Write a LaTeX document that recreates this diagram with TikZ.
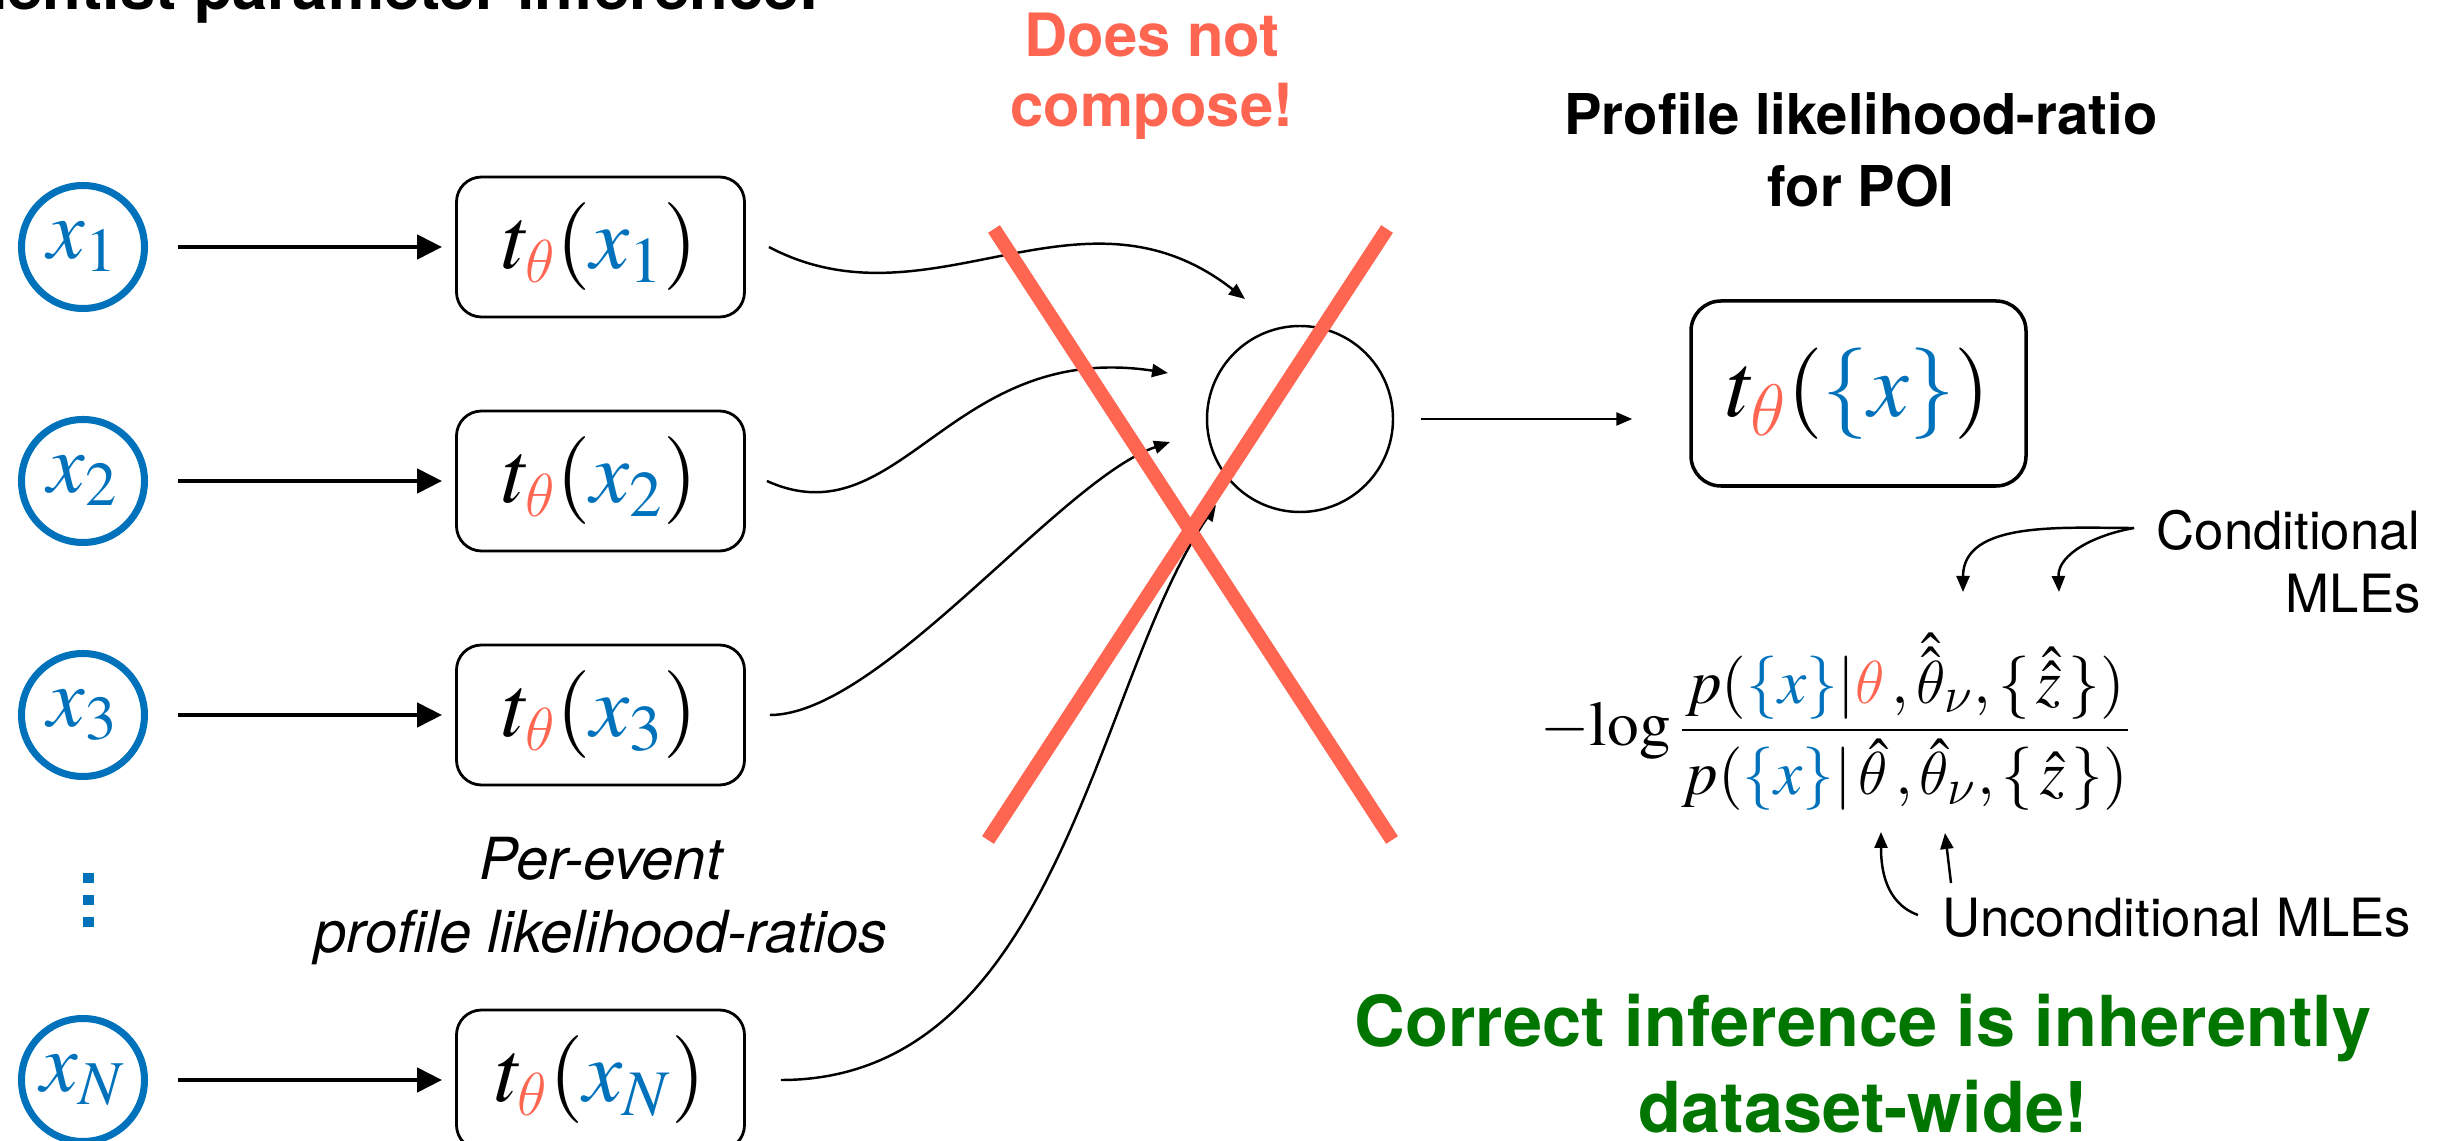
\documentclass[tikz,border=0pt]{standalone}
\usepackage{amsmath}
\usepackage{mathptmx}
\DeclareSymbolFont{cmitgreek}{OML}{cmm}{m}{it}
\DeclareMathSymbol{\theta}{\mathord}{cmitgreek}{"12}
\DeclareMathSymbol{\nu}{\mathord}{cmitgreek}{"17}
\usepackage[no-math]{fontspec}
\setmainfont{TeX Gyre Heros}
\usetikzlibrary{arrows.meta,calc}

\definecolor{evblue}{RGB}{0,114,188}
\definecolor{poired}{RGB}{255,102,82}
\definecolor{okgreen}{RGB}{0,117,0}

\begin{document}
\begin{tikzpicture}[
	evnode/.style={circle, draw=evblue, text=evblue, line width=2pt, minimum size=1.23cm, inner sep=0pt, font=\fontsize{24}{28}\selectfont},
	ratiobox/.style={draw, rounded corners=0.25cm, line width=0.8pt, minimum width=2.88cm, minimum height=1.40cm, inner sep=0pt, font=\fontsize{25}{30}\selectfont},
	feed/.style={line width=1.3pt, -{Triangle[length=0.25cm,width=0.24cm]}, shorten <=0.30cm, shorten >=0.13cm},
	link/.style={line width=0.7pt, -{Triangle[length=0.16cm,width=0.13cm]}},
	note/.style={font=\fontsize{15}{18}\selectfont}
]
\useasboundingbox (0, 0) rectangle (24.56, -11.41);

\node[anchor=base east, font=\bfseries\fontsize{18}{22}\selectfont] (title) at (8.32, -0.10) {Frequentist parameter inference:};

% per-event statistics
\foreach \i/\y in {1/2.47, 2/4.81, 3/7.15, N/10.80} {
	\node[evnode] (x\i) at (0.83, -\y) {$x_{\i}$};
	\node[ratiobox] (t\i) at (6.005, -\y) {$t_{\textcolor{poired}{\theta}}(\textcolor{evblue}{x_{\i}})$};
	\draw[feed] (x\i) -- (t\i);
}

\foreach \d in {8.78, 9.00, 9.22}
	\fill[evblue] (0.885, -\d) +(-0.055, -0.05) rectangle +(0.055, 0.05);

\node[anchor=base, align=center, font=\itshape\fontsize{16.5}{20.5}\selectfont] (perev) at (6.01, -9.52) {Per-event\\profile likelihood-ratios};

% combination
\node[draw, circle, line width=0.7pt, minimum size=1.86cm] (comb) at (13.00, -4.19) {};

\draw[link] ($(t1.east)+(0.23, 0)$) .. controls +(1.61, -0.85) and +(-1.65, 1.29) .. ($(comb)+(-0.55, 1.20)$);
\draw[link] ($(t2.east)+(0.21, 0)$) .. controls +(1.33, -0.60) and +(-2.18, 0.33) .. ($(comb)+(-1.32, 0.46)$);
\draw[link] ($(t3.east)+(0.24, 0)$) .. controls +(1.10, 0) and +(-1.10, -0.38) .. ($(comb)+(-1.30, -0.23)$);
\draw[link] ($(tN.east)+(0.35, 0)$) .. controls +(2.79, 0) and +(-1.21, -1.75) .. ($(comb)+(-0.84, -0.86)$);

\node[draw, rounded corners=0.3cm, line width=1pt, minimum width=3.35cm, minimum height=1.85cm, inner sep=0pt, font=\fontsize{26}{30}\selectfont] (tall) at (18.585, -3.935) {$t_{\textcolor{poired}{\theta}}(\textcolor{evblue}{\{x\}})$};
\draw[link, shorten <=0.27cm, shorten >=0.57cm] (comb.east) -- (comb.east -| tall.west);

% crossed out
\draw[poired, line width=4pt] (9.94, -2.29) -- (13.92, -8.40);
\draw[poired, line width=4pt] (13.87, -2.29) -- (9.88, -8.40);

\node[anchor=base, align=center, text=poired, font=\bfseries\fontsize{17}{20}\selectfont] (nocomp) at (11.52, -1.27) {Does not\\compose!};
\node[anchor=base, align=center, font=\bfseries\fontsize{16}{20.5}\selectfont] (plr) at (18.61, -2.07) {Profile likelihood-ratio\\for POI};

% the ratio
\node[anchor=west, inner sep=0pt, font=\fontsize{18}{22}\selectfont] (lr) at (15.40, -7.22) {$\mathord{-}\!\log\dfrac{p(\textcolor{evblue}{\{x\}}|\textcolor{poired}{\theta}\,,\hat{\hat{\theta}}_\nu,\{\,\hat{\hat{z}}\,\})}{p(\textcolor{evblue}{\{x\}}|\,\hat{\theta}\,,\hat{\theta}_\nu,\{\,\hat{z}\,\})}$};

\node[note, anchor=base east, align=right] (cond) at (24.33, -6.13) {Conditional\\MLEs};
\node[note, anchor=base west] (uncond) at (19.30, -9.37) {Unconditional MLEs};

\coordinate (cfrom) at (21.34, -5.28);
\coordinate (chat1) at (19.63, -5.92);
\coordinate (chat2) at (20.59, -5.92);
\draw[link] (cfrom) to[out=180, in=90] (chat1);
\draw[link] (cfrom) to[out=190, in=92] (chat2);

\coordinate (ufrom1) at (19.18, -9.15);
\coordinate (uhat1) at (18.81, -8.32);
\coordinate (ufrom2) at (19.51, -8.83);
\coordinate (uhat2) at (19.45, -8.33);
\draw[link] (ufrom1) to[out=160, in=-90] (uhat1);
\draw[link] (ufrom2) -- (uhat2);

\node[anchor=base, align=center, text=okgreen, font=\bfseries\fontsize{20}{24.2}\selectfont] (dsw) at (18.63, -11.32) {Correct inference is inherently\\dataset-wide!};
\end{tikzpicture}
\end{document}
